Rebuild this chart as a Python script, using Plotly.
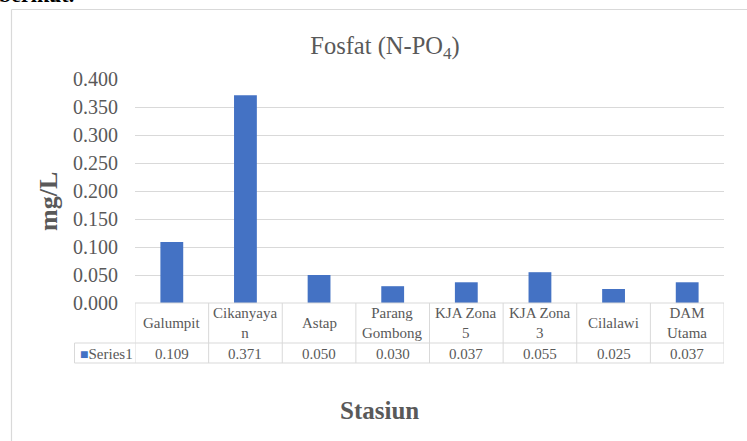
import plotly.graph_objects as go

categories = ["Galumpit", "Cikanyaya<br>n", "Astap", "Parang<br>Gombong",
              "KJA Zona<br>5", "KJA Zona<br>3", "Cilalawi", "DAM<br>Utama"]
values = [0.109, 0.371, 0.050, 0.030, 0.037, 0.055, 0.025, 0.037]
series_name = "Series1"
y_ticks = [0.0, 0.05, 0.10, 0.15, 0.20, 0.25, 0.30, 0.35, 0.40]
y_ticktext = [f"{t:.3f}" for t in y_ticks]

W, H = 747, 441
L, R, T, B = 135, 23, 79, 138
PW, PH = W - L - R, H - T - B

FONT = "Liberation Serif"
GRAY = "#595959"
LINE = "#D9D9D9"
BAR = "#4472C4"

def px_x(p):
    return (p - L) / PW

def px_y(p):
    return (H - B - p) / PH

idx = list(range(len(categories)))

fig = go.Figure()
fig.add_trace(go.Bar(x=idx, y=values, width=0.31, marker_color=BAR,
                     marker_line_width=0, name=series_name, showlegend=False))

shapes = []
row1 = px_y(343)
row2 = px_y(363)
leg_left = px_x(74.5)
n = len(categories)
shapes.append(dict(type="line", xref="x", yref="paper", x0=-0.5, x1=n - 0.5, y0=0, y1=0,
                   line=dict(color=LINE, width=1)))
for yy in (row1, row2):
    shapes.append(dict(type="line", xref="paper", yref="paper", x0=leg_left, x1=1, y0=yy, y1=yy,
                       line=dict(color=LINE, width=1)))
for i in range(n + 1):
    shapes.append(dict(type="line", xref="x", yref="paper", x0=i - 0.5, x1=i - 0.5, y0=0, y1=row2,
                       line=dict(color=LINE, width=1)))
shapes.append(dict(type="line", xref="paper", yref="paper", x0=leg_left, x1=leg_left, y0=row1, y1=row2,
                   line=dict(color=LINE, width=1)))
# chart frame
shapes.append(dict(type="line", xref="paper", yref="paper", x0=px_x(11.5), x1=px_x(11.5),
                   y0=px_y(9.5), y1=px_y(460), line=dict(color=LINE, width=1.2)))
shapes.append(dict(type="line", xref="paper", yref="paper", x0=px_x(11.5), x1=px_x(760),
                   y0=px_y(9.5), y1=px_y(9.5), line=dict(color=LINE, width=1.2)))

annotations = []
for i, (c, v) in enumerate(zip(categories, values)):
    annotations.append(dict(x=i, y=px_y(323), xref="x", yref="paper", text=c, showarrow=False,
                            font=dict(family=FONT, size=15, color=GRAY), xanchor="center",
                            yanchor="middle", align="center"))
    annotations.append(dict(x=i, y=px_y(353.5), xref="x", yref="paper", text=f"{v:.3f}", showarrow=False,
                            font=dict(family=FONT, size=15, color=GRAY), xanchor="center",
                            yanchor="middle"))
annotations.append(dict(x=px_x(77.5), y=px_y(353.5), xref="paper", yref="paper",
                        text=f"<span style='color:{BAR};font-size:14px'>■</span>{series_name}",
                        showarrow=False, font=dict(family=FONT, size=15, color=GRAY),
                        xanchor="left", yanchor="middle"))
annotations.append(dict(x=px_x(48), y=px_y(202), xref="paper", yref="paper", text="<b>mg/L</b>",
                        textangle=-90, showarrow=False, font=dict(family=FONT, size=26, color=GRAY),
                        xanchor="center", yanchor="middle"))
annotations.append(dict(x=px_x(379), y=px_y(410), xref="paper", yref="paper", text="<b>Stasiun</b>",
                        showarrow=False, font=dict(family=FONT, size=25, color=GRAY),
                        xanchor="center", yanchor="middle"))
# document text cut off at the top of the page
annotations.append(dict(x=px_x(76), y=px_y(9), xref="paper", yref="paper", text="<b>berikut.</b>",
                        showarrow=False, font=dict(family=FONT, size=22, color="#000000"),
                        xanchor="right", yanchor="bottom"))

fig.update_layout(
    width=W, height=H,
    margin=dict(l=L, r=R, t=T, b=B, pad=0),
    paper_bgcolor="white", plot_bgcolor="white",
    title=dict(text="Fosfat (N-PO<sub>4</sub>)", x=385 / W, xref="container",
               y=1 - 45 / H, yref="container", xanchor="center", yanchor="middle",
               font=dict(family=FONT, size=24.5, color=GRAY)),
    xaxis=dict(range=[-0.5, n - 0.5], showticklabels=False, showgrid=False, zeroline=False,
               showline=False, fixedrange=True),
    yaxis=dict(range=[0, 0.4], tickvals=y_ticks, ticktext=y_ticktext, showgrid=True,
               gridcolor=LINE, gridwidth=1, zeroline=False, showline=False,
               tickfont=dict(family=FONT, size=20, color=GRAY), ticklabelstandoff=16),
    shapes=shapes, annotations=annotations, showlegend=False,
)

fig.write_html("out.html", config={"displayModeBar": False},
               post_script="document.body.style.margin='0';document.body.style.overflow='hidden';")
